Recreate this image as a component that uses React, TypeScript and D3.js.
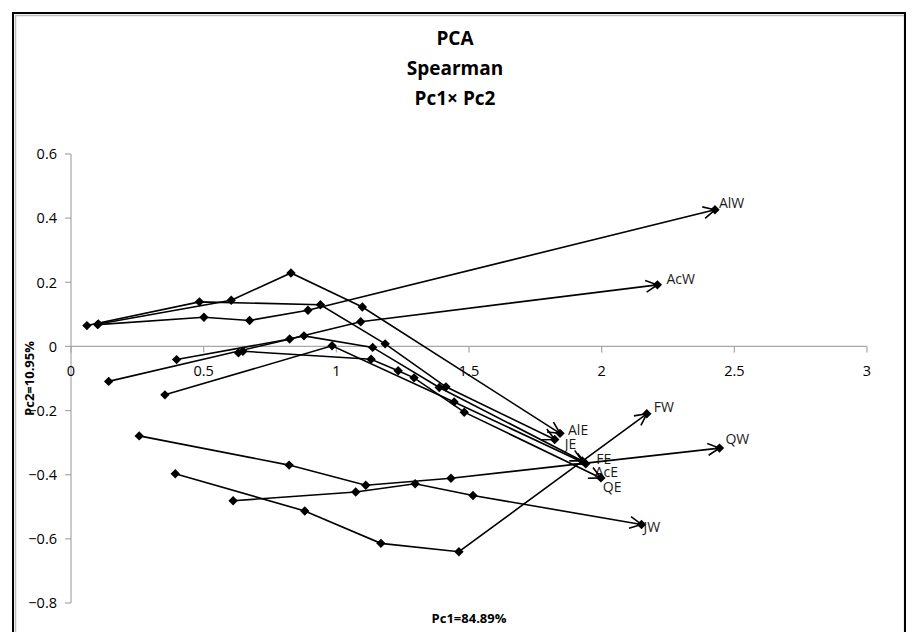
import React from "react";
import * as d3 from "d3";

const WIDTH = 912;
const HEIGHT = 632;

// Axis ticks
const xTicks = [0, 0.5, 1, 1.5, 2, 2.5, 3];
const yTicks = [-0.8, -0.6, -0.4, -0.2, 0, 0.2, 0.4, 0.6];

// Trajectories in the Pc1 x Pc2 plane; the last point of each carries the arrow and label
const AlW: [number, number][] = [[0.1, 0.068], [0.501, 0.091], [0.673, 0.081], [0.893, 0.113], [2.427, 0.426]];
const AcW: [number, number][] = [[0.398, -0.041], [0.824, 0.023], [1.092, 0.077], [2.21, 0.192]];
const AlE: [number, number][] = [[0.103, 0.07], [0.604, 0.144], [0.829, 0.229], [1.098, 0.123], [1.843, -0.271]];
const JE: [number, number][] = [[0.06, 0.065], [0.484, 0.139], [0.94, 0.13], [1.184, 0.008], [1.413, -0.126], [1.823, -0.29]];
const FE: [number, number][] = [[0.142, -0.109], [0.878, 0.033], [1.137, -0.003], [1.388, -0.128], [1.927, -0.357]];
const AcE: [number, number][] = [[0.354, -0.151], [0.984, 0.002], [1.444, -0.173], [1.94, -0.366]];
const QE: [number, number][] = [[0.631, -0.02], [0.648, -0.015], [1.131, -0.04], [1.233, -0.076], [1.293, -0.098], [1.482, -0.205], [1.997, -0.41]];
const QW: [number, number][] = [[0.257, -0.279], [0.822, -0.37], [1.111, -0.433], [1.432, -0.411], [2.444, -0.317]];
const JW: [number, number][] = [[0.611, -0.481], [1.073, -0.454], [1.297, -0.428], [1.515, -0.465], [2.15, -0.555]];
const FW: [number, number][] = [[0.393, -0.397], [0.881, -0.513], [1.168, -0.614], [1.462, -0.64], [2.17, -0.21]];

const seriesNames = ["AlW", "AcW", "AlE", "JE", "FE", "AcE", "QE", "QW", "JW", "FW"];
const seriesPoints = [AlW, AcW, AlE, JE, FE, AcE, QE, QW, JW, FW];

// Where each end label sits relative to its end point (pixels)
const labelShift: Record<string, [number, number]> = {
  AlW: [4, -7],
  AcW: [9, -6],
  AlE: [8, -3],
  JE: [10, 5],
  FE: [14, -2],
  AcE: [9, 8],
  QE: [2, 9],
  FW: [7, -7],
  QW: [6, -9],
  JW: [2, 3],
};

const FONT = "'Open Sans', 'DejaVu Sans', sans-serif";

export default function App() {
  const x = d3.scaleLinear().domain([0, 3]).range([71, 867]);
  const y = d3.scaleLinear().domain([-0.8, 0.6]).range([603, 154]);
  const line = d3
    .line<[number, number]>()
    .x((d) => x(d[0]))
    .y((d) => y(d[1]));

  const diamond = (cx: number, cy: number, r = 4.7) =>
    `M${cx},${cy - r}L${cx + r},${cy}L${cx},${cy + r}L${cx - r},${cy}Z`;

  const arrow = (pts: [number, number][]) => {
    const a = pts[pts.length - 2];
    const b = pts[pts.length - 1];
    const x1 = x(a[0]), y1 = y(a[1]);
    const x2 = x(b[0]), y2 = y(b[1]);
    const ang = Math.atan2(y1 - y2, x1 - x2);
    const len = 13;
    const spread = (27 * Math.PI) / 180;
    const p1 = [x2 + len * Math.cos(ang + spread), y2 + len * Math.sin(ang + spread)];
    const p2 = [x2 + len * Math.cos(ang - spread), y2 + len * Math.sin(ang - spread)];
    return `M${p1[0]},${p1[1]}L${x2},${y2}L${p2[0]},${p2[1]}`;
  };

  const y0 = y(0);
  const xLeft = x(0);

  return (
    <svg
      width={WIDTH}
      height={HEIGHT}
      style={{ position: "absolute", left: 0, top: 0, background: "#fff" }}
    >
      <rect x={0} y={0} width={WIDTH} height={HEIGHT} fill="#fff" />
      {/* chart frame */}
      <rect x={15.5} y={15.5} width={889} height={640} fill="none" stroke="#bdbdbd" strokeWidth={1.5} />
      <rect x={13} y={13} width={892} height={640} fill="none" stroke="#000" strokeWidth={2} />

      {/* title */}
      <g fontFamily={FONT} fontWeight="bold" fontSize={19} textAnchor="middle" fill="#000">
        <text x={455} y={45}>PCA</text>
        <text x={455} y={75}>Spearman</text>
        <text x={455} y={105}>Pc1× Pc2</text>
      </g>

      {/* y axis */}
      <line x1={xLeft} x2={xLeft} y1={y(0.6)} y2={y(-0.8)} stroke="#a6a6a6" strokeWidth={1.2} />
      {yTicks.map((t) => (
        <g key={"y" + t}>
          <line x1={xLeft - 6} x2={xLeft} y1={y(t)} y2={y(t)} stroke="#a6a6a6" strokeWidth={1.2} />
          <text
            x={xLeft - 14}
            y={y(t)}
            dy="0.36em"
            textAnchor="end"
            fontFamily={FONT}
            fontSize={14.5}
            fill="#000"
          >
            {t === 0 ? "0" : d3.format(".1f")(t)}
          </text>
        </g>
      ))}

      {/* x axis through Pc2 = 0 */}
      <line x1={x(0)} x2={x(3)} y1={y0} y2={y0} stroke="#a6a6a6" strokeWidth={1.2} />
      {xTicks.map((t) => (
        <g key={"x" + t}>
          <line x1={x(t)} x2={x(t)} y1={y0} y2={y0 + 6} stroke="#a6a6a6" strokeWidth={1.2} />
          <text
            x={x(t)}
            y={y0 + 24}
            dy="0.36em"
            textAnchor="middle"
            fontFamily={FONT}
            fontSize={14.5}
            fill="#000"
          >
            {String(t)}
          </text>
        </g>
      ))}

      {/* axis titles */}
      <text
        x={469}
        y={623}
        textAnchor="middle"
        fontFamily={FONT}
        fontWeight="bold"
        fontSize={13}
        fill="#000"
      >
        Pc1=84.89%
      </text>
      <text
        transform={`translate(34,${(y(0.6) + y(-0.8)) / 2}) rotate(-90)`}
        textAnchor="middle"
        fontFamily={FONT}
        fontWeight="bold"
        fontSize={13}
        fill="#000"
      >
        Pc2=10.95%
      </text>

      {/* trajectories */}
      {seriesPoints.map((pts, i) => {
        const name = seriesNames[i];
        const end = pts[pts.length - 1];
        const [dx, dy] = labelShift[name];
        return (
          <g key={name}>
            <path d={line(pts) || ""} fill="none" stroke="#000" strokeWidth={1.6} />
            <path d={arrow(pts)} fill="none" stroke="#000" strokeWidth={1.6} />
            {pts.map((p, j) => (
              <path key={j} d={diamond(x(p[0]), y(p[1]))} fill="#000" />
            ))}
            <text
              x={x(end[0]) + dx}
              y={y(end[1]) + dy}
              dy="0.36em"
              fontFamily={FONT}
              fontSize={14}
              fill="#1a1a1a"
            >
              {name}
            </text>
          </g>
        );
      })}
    </svg>
  );
}
